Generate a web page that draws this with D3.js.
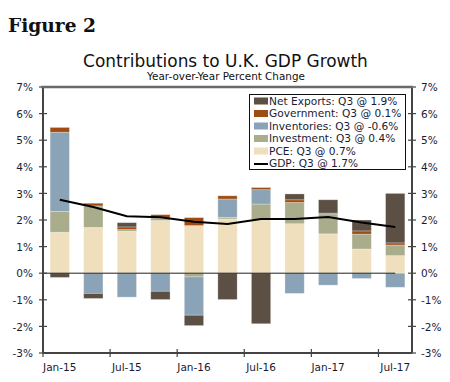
<!DOCTYPE html>
<html><head><meta charset="utf-8">
<script src="https://cdn.jsdelivr.net/npm/d3@7"></script>
<style>body{margin:0;background:#fff}svg{display:block}</style>
</head><body>
<svg id="c" width="450" height="382"></svg>
<script>
const quarters = ["Jan-15","Apr-15","Jul-15","Oct-15","Jan-16","Apr-16","Jul-16","Oct-16","Jan-17","Apr-17","Jul-17"];
const tickLabels = ["Jan-15","Jul-15","Jan-16","Jul-16","Jan-17","Jul-17"];
const pce         = [1.54, 1.72, 1.58, 1.98, 1.79, 2.04, 2.01, 1.86, 1.48, 0.91, 0.66];
const investment  = [0.78, 0.81, 0.06, 0.10, -0.14, 0.06, 0.59, 0.80, 0.75, 0.56, 0.40];
const inventories = [2.98, -0.76, -0.90, -0.68, -1.44, 0.69, 0.54, -0.76, -0.45, -0.20, -0.53];
const government  = [0.18, 0.10, 0.10, 0.12, 0.30, 0.12, 0.08, 0.10, 0.03, 0.12, 0.08];
const netExports  = [-0.16, -0.19, 0.16, -0.31, -0.39, -0.99, -1.90, 0.22, 0.50, 0.41, 1.86];
const gdp         = [2.76, 2.49, 2.14, 2.10, 1.93, 1.85, 2.04, 2.04, 2.11, 1.91, 1.74];
const yTicks = [-3,-2,-1,0,1,2,3,4,5,6,7];
const legendLabels = ["Net Exports: Q3 @ 1.9%","Government: Q3 @ 0.1%","Inventories: Q3 @ -0.6%","Investment: Q3 @ 0.4%","PCE: Q3 @ 0.7%","GDP: Q3 @ 1.7%"];

const seriesKeys = ["PCE","Investment","Inventories","Government","Net Exports"];
const seriesVals = [pce, investment, inventories, government, netExports];
const colors = {"PCE":"#efdfbd","Investment":"#a9ad8b","Inventories":"#8ba3b6","Government":"#9e4c12","Net Exports":"#5c4f44"};

const rows = quarters.map((q,i)=>{const o={q}; seriesKeys.forEach((k,j)=>o[k]=seriesVals[j][i]); return o;});
const stack = d3.stack().keys(seriesKeys).offset(d3.stackOffsetDiverging)(rows);

const svg = d3.select("#c");
const L=43, R=412, T=87, B=353;
const x = d3.scaleBand().domain(quarters).range([L,R]).paddingInner(0.425).paddingOuter(0.2125);
const y = d3.scaleLinear().domain([-3,7]).range([B,T]);
const txt = "#1a1a33";

function fit(sel, w){ const n=sel.node(); const fs=+sel.attr("font-size"); const len=n.getComputedTextLength(); if(len>0) sel.attr("font-size", fs*w/len); }

// Titles
fit(svg.append("text").attr("x",8).attr("y",32).attr("font-family","DejaVu Serif").attr("font-weight","bold").attr("font-size",20).attr("fill","#111").text("Figure 2"), 88);
fit(svg.append("text").attr("x",225.5).attr("y",67).attr("text-anchor","middle").attr("font-family","DejaVu Sans").attr("font-size",16).attr("fill","#111").text("Contributions to U.K. GDP Growth"), 285);
fit(svg.append("text").attr("x",226).attr("y",80).attr("text-anchor","middle").attr("font-family","DejaVu Sans").attr("font-size",10).attr("fill","#111").text("Year-over-Year Percent Change"), 158);

// bars
svg.append("g").selectAll("g").data(stack).join("g").attr("fill",d=>colors[d.key])
  .selectAll("rect").data(d=>d).join("rect")
  .attr("x",d=>x(d.data.q)).attr("width",x.bandwidth())
  .attr("y",d=>y(Math.max(d[0],d[1]))).attr("height",d=>Math.abs(y(d[0])-y(d[1])))
  .attr("stroke","#fff").attr("stroke-opacity",0.35).attr("stroke-width",0.8);

// zero line
svg.append("line").attr("x1",L).attr("x2",x(quarters[10])+x.bandwidth()/2).attr("y1",y(0)).attr("y2",y(0)).attr("stroke","#222").attr("stroke-width",1);

// GDP line
svg.append("path").datum(gdp).attr("fill","none").attr("stroke","#000").attr("stroke-width",2)
  .attr("d",d3.line().x((d,i)=>x(quarters[i])+x.bandwidth()/2).y(d=>y(d)));

// axes
const axisCol="#444";
const gl = svg.append("g").attr("transform",`translate(${L},0)`).call(d3.axisLeft(y).tickValues(yTicks).tickSize(0).tickFormat(d=>d+"%"));
gl.select(".domain").remove();
gl.selectAll("text").attr("x",-10).attr("dy","0.35em").attr("font-family","DejaVu Sans").attr("font-size",10.5).attr("fill",txt);
const gr = svg.append("g").attr("transform",`translate(${R},0)`).call(d3.axisRight(y).tickValues(yTicks).tickSize(0).tickFormat(d=>d+"%"));
gr.select(".domain").remove();
gr.selectAll("text").attr("x",9).attr("dy","0.35em").attr("font-family","DejaVu Sans").attr("font-size",10.5).attr("fill",txt);
svg.append("g").selectAll("line").data(yTicks).join("line").attr("x1",L-4).attr("x2",L+4).attr("y1",d=>y(d)).attr("y2",d=>y(d)).attr("stroke",axisCol).attr("stroke-width",1.2);
svg.append("g").selectAll("line").data(yTicks).join("line").attr("x1",R-4).attr("x2",R+4).attr("y1",d=>y(d)).attr("y2",d=>y(d)).attr("stroke",axisCol).attr("stroke-width",1.2);
// frame
svg.append("line").attr("x1",L).attr("x2",L).attr("y1",T).attr("y2",B).attr("stroke",axisCol).attr("stroke-width",2);
svg.append("line").attr("x1",R).attr("x2",R).attr("y1",T).attr("y2",B).attr("stroke",axisCol).attr("stroke-width",2);
svg.append("line").attr("x1",L-2).attr("x2",R+1).attr("y1",T).attr("y2",T).attr("stroke","#6a6a6a").attr("stroke-width",2.5);
svg.append("line").attr("x1",L).attr("x2",R).attr("y1",B).attr("y2",B).attr("stroke",axisCol).attr("stroke-width",2);
// x ticks at band boundaries every two quarters
const xTickPos = tickLabels.map(t=>x(t)-x.step()*x.paddingInner()/2 - (t==="Jan-15"? x.step()*(x.paddingOuter()-x.paddingInner()/2):0));
svg.append("g").selectAll("line").data(xTickPos).join("line").attr("x1",d=>d).attr("x2",d=>d).attr("y1",B-4).attr("y2",B+4).attr("stroke",axisCol).attr("stroke-width",1.2);
svg.append("g").selectAll("text").data(tickLabels).join("text").attr("x",d=>x(d)+x.bandwidth()/2).attr("y",371).attr("text-anchor","middle")
  .attr("font-family","DejaVu Sans").attr("font-size",10.5).attr("fill",txt).text(d=>d);

// legend
const lg = svg.append("g");
lg.append("rect").attr("x",249.5).attr("y",94.5).attr("width",156).attr("height",75).attr("fill","#fff").attr("stroke","#111").attr("stroke-width",1);
const legKeys = ["Net Exports","Government","Inventories","Investment","PCE","GDP"];
legKeys.forEach((k,i)=>{
  const cy = 100.5 + i*12.5;
  if(k==="GDP") lg.append("line").attr("x1",254).attr("x2",268).attr("y1",cy+1).attr("y2",cy+1).attr("stroke","#000").attr("stroke-width",2);
  else lg.append("rect").attr("x",254).attr("y",cy-3).attr("width",14).attr("height",7).attr("fill",colors[k]);
  lg.append("text").attr("x",269).attr("y",cy+4).attr("font-family","DejaVu Sans").attr("font-size",10.6).attr("fill",txt).text(legendLabels[i]);
});
</script>
</body></html>
